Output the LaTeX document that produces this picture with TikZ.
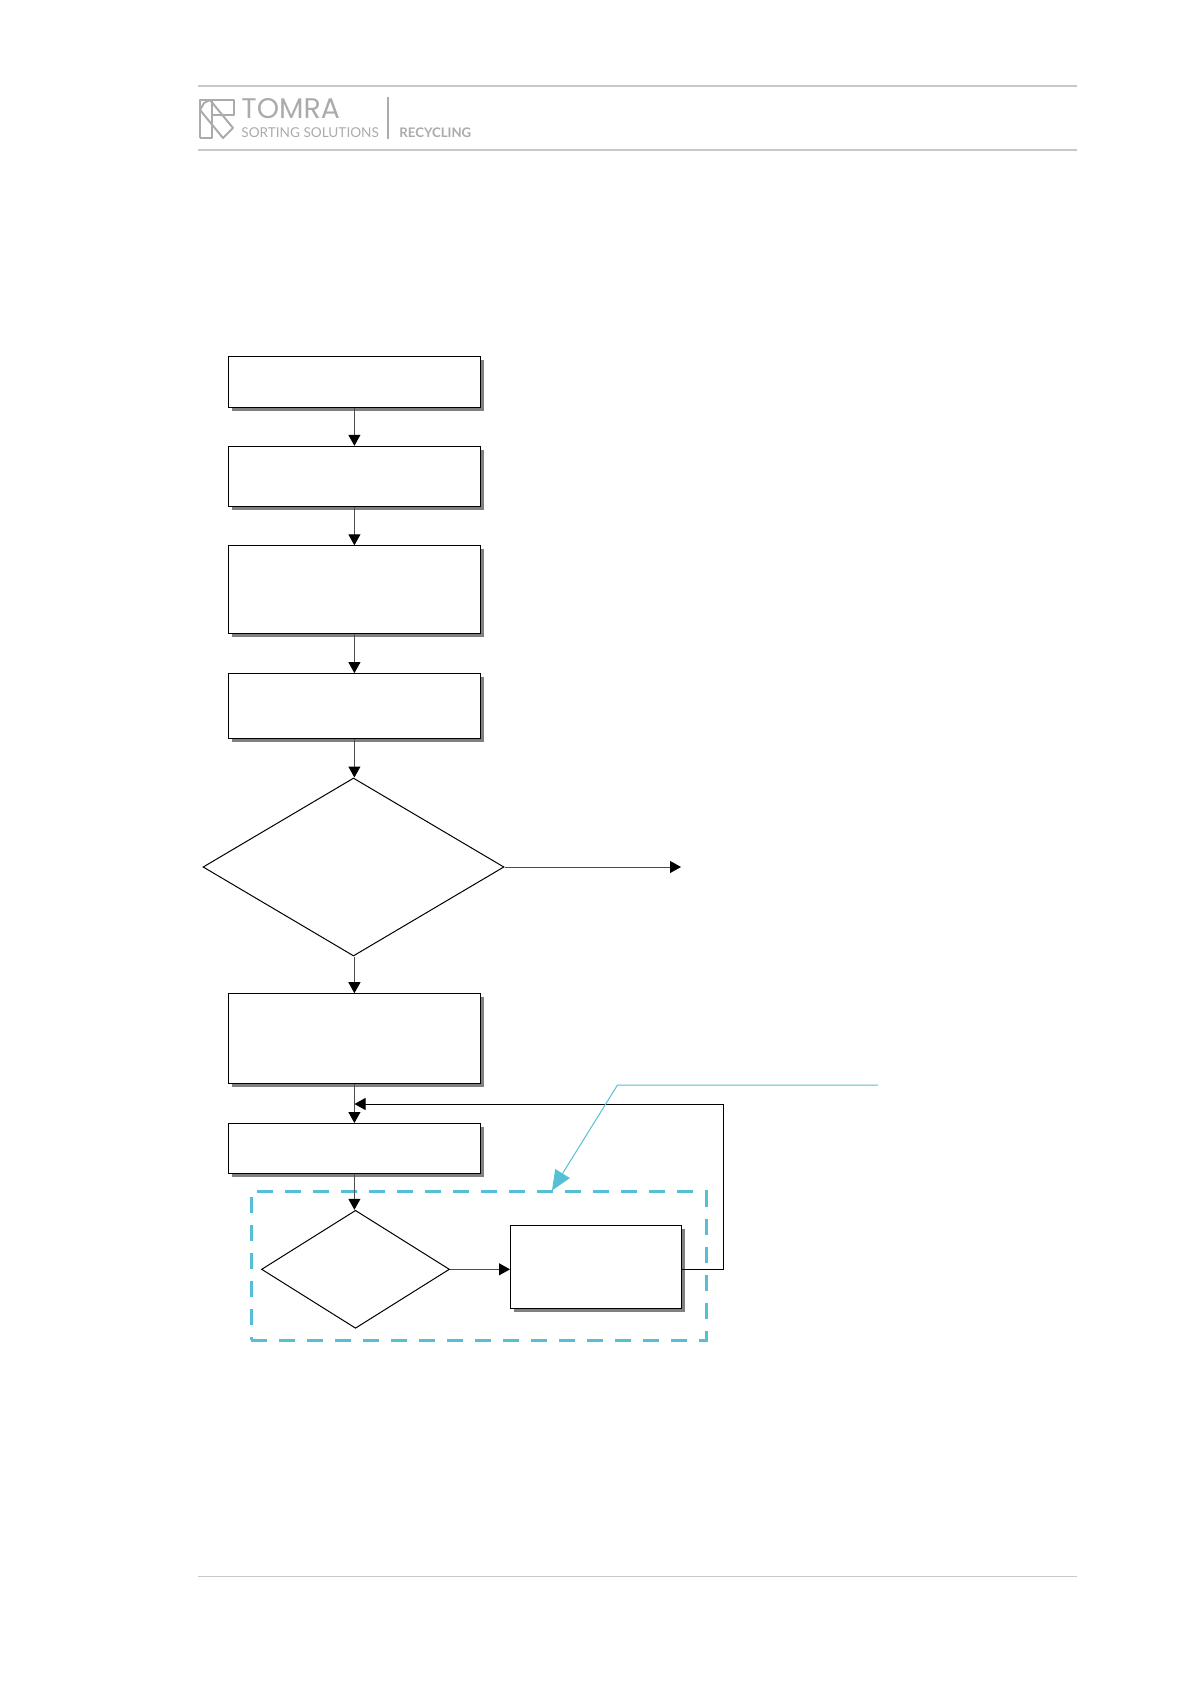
\documentclass[tikz,border=0pt]{standalone}
\usepackage{fontspec}
\setmainfont{Lato}
\newfontfamily\logofont{Poppins}
\usetikzlibrary{shapes, shapes.geometric, arrows, positioning, shadows, arrows.meta}
\definecolor{rulegray}{HTML}{C8C8C8}
\definecolor{logogray}{HTML}{ABABAB}
\definecolor{tealline}{HTML}{55BFD5}

\begin{document}
\begin{tikzpicture}[x=0.5pt, y=-0.5pt,
        box/.style={rectangle, draw=black, fill=white, line width=0.5pt, inner sep=0pt, minimum width=126pt, drop shadow={shadow xshift=1.8pt, shadow yshift=-1.8pt, fill=black!50, opacity=1}},
        decision/.style={diamond, draw=black, fill=white, line width=0.5pt, inner sep=0pt},
        arrow/.style={-{Triangle[length=5.5pt, width=6pt, black]}, line width=0.5pt, black!70},
        flowline/.style={line width=0.5pt, black},
        rule/.style={line width=0.7pt, rulegray},
        logo/.style={line width=1pt, logogray, line join=round}
    ]
        \useasboundingbox (0, 0) rectangle (1190, 1684);

        % Page header and footer
        \draw[rule] (198, 86) coordinate (headtopl) -- (1077, 86) coordinate (headtopr);
        \draw[rule] (198, 150) coordinate (headbotl) -- (1077, 150) coordinate (headbotr);
        \draw[rule] (198, 1576.5) coordinate (footl) -- (1077, 1576.5) coordinate (footr);

        % Logo
        \draw[logo] (200, 138) -- (200, 100) -- (233.5, 100) -- (233.5, 115) -- (212, 115);
        \draw[logo] (200, 138) -- (212, 138) -- (212, 100);
        \draw[logo] (200, 110) -- (204, 103) -- (210, 100) -- (233, 128) -- (223, 138) -- (200, 110);
        \node[font=\logofont\fontsize{14.2}{14.2}\selectfont, text=logogray, anchor=west, inner sep=0pt] (tomra) at (241, 108.5) {TOMRA};
        \node[font=\fontsize{6.8}{6.8}\selectfont, text=logogray, anchor=west, inner sep=0pt] (sorting) at (241, 132.5) {SORTING SOLUTIONS};
        \draw[line width=0.7pt, logogray] (388, 97) -- (388, 139);
        \node[font=\bfseries\fontsize{6.6}{6.6}\selectfont, text=logogray, anchor=west, inner sep=0pt] (recycling) at (399, 132.5) {RECYCLING};

        % Dashed frame
        \node[draw=tealline, line width=1.5pt, dash pattern=on 8pt off 6pt, minimum width=227.5pt, minimum height=74.2pt, inner sep=0pt] (frame) at (478.5, 1266) {};

        % Steps
        \node[box, minimum height=25.6pt] (s1) at (354.4, 382) {};
        \node[box, minimum height=30.2pt] (s2) at (354.4, 476.5) {};
        \node[box, minimum height=43.8pt] (s3) at (354.4, 589.6) {};
        \node[box, minimum height=32.6pt] (s4) at (354.4, 706.2) {};
        \node[decision, minimum width=150.5pt, minimum height=89pt, aspect=1.69] (d1) at (353.5, 867) {};
        \node[box, minimum height=44.8pt] (s5) at (354.4, 1038.5) {};
        \node[box, minimum height=24.8pt] (s6) at (354.4, 1148.3) {};
        \node[decision, minimum width=94pt, minimum height=59pt, aspect=1.59] (d2) at (355.5, 1269.3) {};
        \node[box, minimum width=85.5pt, minimum height=41.5pt] (s7) at (596, 1267) {};
        \coordinate (out) at (681, 867);
        \coordinate (join) at (354.5, 1104);
        \coordinate (corner1) at (723.5, 1269.5);
        \coordinate (corner2) at (723.5, 1104);
        \coordinate (noteend) at (878, 1085);
        \coordinate (notebend) at (617.5, 1085);
        \coordinate (notetip) at (552, 1190.5);

        % Arrows
        \draw[arrow] (s1) -- (s2);
        \draw[arrow] (s2) -- (s3);
        \draw[arrow] (s3) -- (s4);
        \draw[arrow] (s4.south) -- (s4.south |- d1.north);
        \draw[arrow] (d1) -- (out);
        \draw[arrow] (s5.north |- d1.south) -- (s5.north);
        \draw[arrow] (s5) -- (s6);
        \draw[arrow] (s6.south) -- (s6.south |- d2.north);
        \draw[arrow] (d2.east) -- (s7.west |- d2.east);
        \draw[flowline, -{Triangle[length=5.5pt, width=6pt]}] (s7.east |- corner1) -- (corner1) -- (corner2) -- (join);

        % Note line
        \draw[line width=0.5pt, tealline, -{Triangle[length=10pt, width=8.5pt]}] (noteend) -- (notebend) -- (notetip);
    \end{tikzpicture}
\end{document}
